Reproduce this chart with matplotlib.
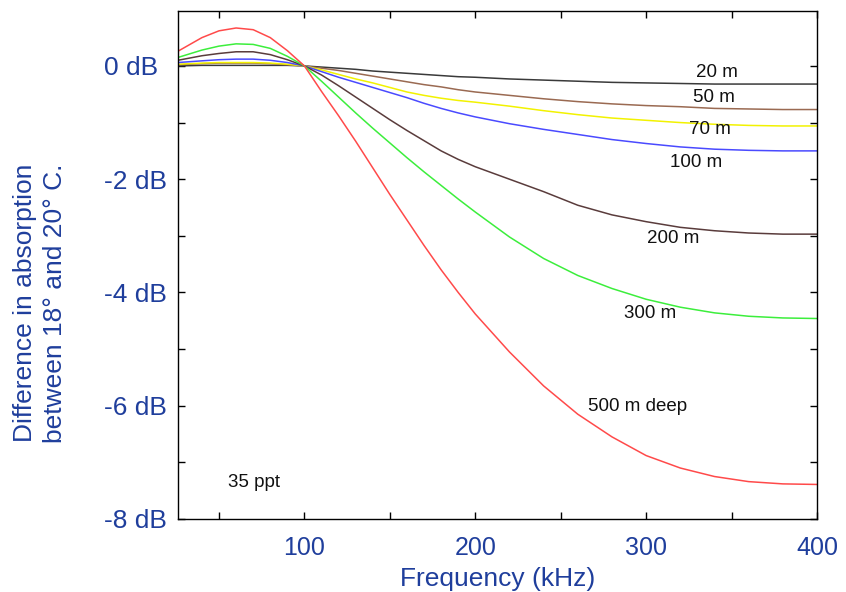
import matplotlib
matplotlib.use("Agg")
import matplotlib.pyplot as plt
from matplotlib.ticker import MultipleLocator

plt.rcParams['font.family'] = ['Liberation Sans', 'DejaVu Sans']

# Frequency grid (kHz)
freq = [26, 40, 50, 60, 70, 80, 90, 100, 110, 120, 130, 140, 150, 160, 170,
        180, 190, 200, 220, 240, 260, 280, 300, 320, 340, 360, 380, 400]

# Absorption difference (dB) for each depth
d20 = [0.00, 0.01, 0.01, 0.01, 0.01, 0.01, 0.01, 0.00, -0.02, -0.04, -0.06, -0.09, -0.11, -0.13,
       -0.15, -0.17, -0.19, -0.20, -0.23, -0.25, -0.27, -0.29, -0.30, -0.31, -0.32, -0.32, -0.32, -0.32]
d50 = [0.02, 0.04, 0.05, 0.05, 0.05, 0.04, 0.02, 0.00, -0.04, -0.08, -0.13, -0.18, -0.23, -0.28,
       -0.33, -0.37, -0.42, -0.46, -0.52, -0.58, -0.63, -0.67, -0.70, -0.72, -0.75, -0.76, -0.77, -0.77]
d70 = [0.03, 0.05, 0.06, 0.06, 0.06, 0.05, 0.03, 0.00, -0.07, -0.15, -0.23, -0.30, -0.38, -0.46,
       -0.52, -0.57, -0.61, -0.64, -0.71, -0.79, -0.86, -0.92, -0.96, -1.00, -1.03, -1.05, -1.06, -1.06]
d100 = [0.06, 0.09, 0.11, 0.12, 0.12, 0.10, 0.06, 0.00, -0.10, -0.20, -0.29, -0.38, -0.47, -0.56,
        -0.66, -0.75, -0.83, -0.90, -1.02, -1.12, -1.21, -1.30, -1.37, -1.43, -1.47, -1.49, -1.50, -1.50]
d200 = [0.10, 0.18, 0.22, 0.25, 0.25, 0.20, 0.11, 0.00, -0.16, -0.35, -0.55, -0.75, -0.95, -1.14,
        -1.32, -1.50, -1.65, -1.78, -2.00, -2.22, -2.46, -2.63, -2.75, -2.85, -2.91, -2.95, -2.97, -2.97]
d300 = [0.15, 0.28, 0.35, 0.39, 0.38, 0.31, 0.17, 0.00, -0.27, -0.55, -0.83, -1.10, -1.36, -1.62,
        -1.87, -2.11, -2.35, -2.58, -3.02, -3.40, -3.70, -3.93, -4.12, -4.26, -4.36, -4.42, -4.45, -4.46]
d500 = [0.26, 0.50, 0.62, 0.67, 0.64, 0.50, 0.27, 0.00, -0.45, -0.88, -1.33, -1.80, -2.27, -2.72,
        -3.17, -3.60, -4.00, -4.38, -5.05, -5.65, -6.15, -6.55, -6.88, -7.10, -7.25, -7.34, -7.38, -7.39]

depth_labels = ["20 m", "50 m", "70 m", "100 m", "200 m", "300 m", "500 m deep"]
y_ticks = [0, -2, -4, -6, -8]
y_tick_labels = ["0 dB", "-2 dB", "-4 dB", "-6 dB", "-8 dB"]
x_ticks = [100, 200, 300, 400]
x_tick_labels = ["100", "200", "300", "400"]

series = [d20, d50, d70, d100, d200, d300, d500]
colors = ["#3a3a3a", "#9a6a52", "#f2f200", "#4a4aff", "#5a3c3c", "#3cee3c", "#ff4a4a"]
# label anchor positions (kHz, dB)
label_pos = [(341.5, -0.11), (339.8, -0.55), (337.4, -1.13), (329.2, -1.70),
             (315.8, -3.04), (302.3, -4.38), (294.7, -6.01)]

blue = "#1f3e9c"

fig = plt.figure(figsize=(8.46, 5.92), dpi=100)
ax = fig.add_axes([178 / 846, 73 / 592, (817 - 178) / 846, (519 - 11) / 592])

for vals, c in zip(series, colors):
    ax.plot(freq, vals, color=c, lw=1.1)

for (fx, fy), lab in zip(label_pos, depth_labels):
    ax.text(fx, fy, lab, ha="center", va="center", fontsize=13.5, color="#111111")
ax.text(70.2, -7.35, "35 ppt", ha="center", va="center", fontsize=13.5, color="#111111")

ax.set_xlim(26, 400)
ax.set_ylim(-8, 0.97)

ax.set_xticks(x_ticks)
ax.set_xticklabels(x_tick_labels)
ax.xaxis.set_minor_locator(MultipleLocator(50))
ax.set_yticks(y_ticks)
ax.set_yticklabels(y_tick_labels)
ax.yaxis.set_minor_locator(MultipleLocator(1))

ax.tick_params(which="both", direction="in", length=5, width=1, color="black",
               top=True, right=True)
ax.tick_params(axis="x", which="major", labelsize=18, labelcolor=blue, pad=12)
ax.tick_params(axis="y", which="major", labelsize=19, labelcolor=blue, pad=53.3)
for t in ax.get_yticklabels():
    t.set_horizontalalignment("left")

for s in ax.spines.values():
    s.set_color("black")
    s.set_linewidth(1)

ax.set_xlabel("Frequency (kHz)", fontsize=19, color=blue, labelpad=5.5)
fig.text(40 / 846, 1 - 303 / 592, "Difference in absorption\nbetween 18\u00b0 and 20\u00b0 C.",
         rotation=90, ha="center", va="center", fontsize=19, color=blue, linespacing=1.35)

fig.savefig("out.png", dpi=100)
